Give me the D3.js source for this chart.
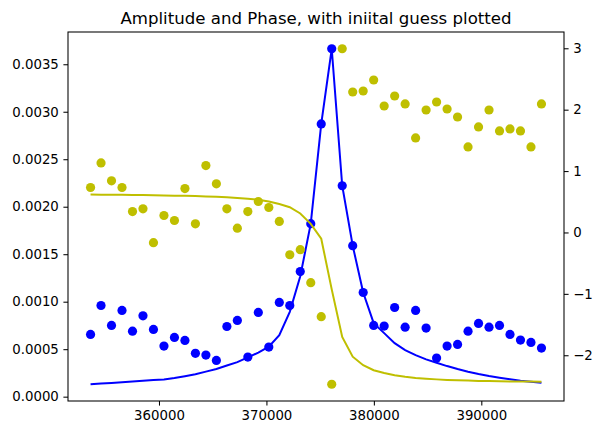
<!doctype html>
<html lang="en">
<head>
  <meta charset="utf-8">
  <title>Amplitude and Phase</title>
  <script src="https://cdn.jsdelivr.net/npm/d3@7"></script>
  <style>
    body { margin: 0; background: #fff; }
    text { font-family: "DejaVu Sans", sans-serif; }
  </style>
</head>
<body>
  <svg id="chart" width="604" height="435"></svg>
  <script>
    // frequencies (Hz)
    var freq = [353630, 354606, 355582, 356558, 357534, 358510, 359486, 360462, 361438, 362414,
      363390, 364366, 365342, 366318, 367294, 368270, 369246, 370222, 371198, 372174,
      373150, 374126, 375102, 376078, 377054, 378030, 379006, 379982, 380958, 381934,
      382910, 383886, 384862, 385838, 386814, 387790, 388766, 389742, 390718, 391694,
      392670, 393646, 394622, 395598];

    // measured amplitude (blue dots)
    var ampData = [0.000655, 0.000960, 0.000750, 0.000908, 0.000690, 0.000851, 0.000708, 0.000533, 0.000624, 0.000592,
      0.000456, 0.000438, 0.000382, 0.000739, 0.000803, 0.000417, 0.000887, 0.000522, 0.000992, 0.000960,
      0.001317, 0.001821, 0.002872, 0.003663, 0.002221, 0.001590, 0.001097, 0.000750, 0.000743, 0.000939,
      0.000732, 0.000908, 0.000722, 0.000407, 0.000533, 0.000550, 0.000690, 0.000771, 0.000732, 0.000750,
      0.000655, 0.000596, 0.000571, 0.000512];

    // initial guess amplitude (blue line)
    var ampGuess = [0.000131, 0.000138, 0.000144, 0.000151, 0.000159, 0.000167, 0.000175, 0.000182, 0.000196, 0.000215,
      0.000236, 0.000264, 0.000291, 0.000328, 0.000364, 0.000414, 0.000464, 0.000527, 0.000648, 0.000893,
      0.001268, 0.001821, 0.002872, 0.003663, 0.002221, 0.001590, 0.001097, 0.000774, 0.000669, 0.000564,
      0.000491, 0.000438, 0.000393, 0.000357, 0.000322, 0.000291, 0.000263, 0.000238, 0.000217, 0.000200,
      0.000183, 0.000168, 0.000158, 0.000147];

    // measured phase (yellow dots)
    var phaseData = [0.732, 1.133, 0.841, 0.732, 0.341, 0.385, -0.167, 0.276, 0.195, 0.715,
      0.141, 1.089, 0.792, 0.385, 0.070, 0.341, 0.504, 0.407, 0.179, -0.363,
      -0.281, -0.818, -1.371, -2.472, 2.992, 2.288, 2.304, 2.483, 2.060, 2.223,
      2.093, 1.540, 1.995, 2.125, 2.011, 1.881, 1.393, 1.719, 1.995, 1.654,
      1.686, 1.654, 1.393, 2.093];

    // initial guess phase (yellow line)
    var phaseGuess = [0.618, 0.616, 0.615, 0.613, 0.611, 0.610, 0.607, 0.604, 0.600, 0.597,
      0.592, 0.587, 0.580, 0.572, 0.563, 0.550, 0.532, 0.504, 0.463, 0.411,
      0.309, 0.141, -0.102, -0.927, -1.702, -2.024, -2.163, -2.244, -2.288, -2.325,
      -2.350, -2.369, -2.382, -2.393, -2.402, -2.408, -2.413, -2.418, -2.421, -2.424,
      -2.426, -2.428, -2.429, -2.431];

    var xTicks = [360000, 370000, 380000, 390000];
    var ampTicks = [0, 0.0005, 0.0010, 0.0015, 0.0020, 0.0025, 0.0030, 0.0035];
    var phaseTicks = [-2, -1, 0, 1, 2, 3];

    var titleText = "Amplitude and Phase, with iniital guess plotted";

    var padL = 68, padR = 564, padT = 32, padB = 401;
    var svg = d3.select("#chart");

    // autoscale like matplotlib, 5% margin
    function padded(vals) {
      var e = d3.extent(vals), m = (e[1] - e[0]) * 0.05;
      return [e[0] - m, e[1] + m];
    }

    var x = d3.scaleLinear().domain(padded(freq)).range([padL, padR]);
    var y1 = d3.scaleLinear().domain(padded(ampData.concat(ampGuess))).range([padB, padT]);
    var y2 = d3.scaleLinear().domain(padded(phaseData.concat(phaseGuess))).range([padB, padT]);

    var tick = 4.6, pad = 4.6;

    var ampAxis = d3.axisLeft(y1).tickValues(ampTicks).tickFormat(d3.format(".4f"))
      .tickSizeInner(tick).tickSizeOuter(0).tickPadding(pad);
    var phaseAxis = d3.axisRight(y2).tickValues(phaseTicks).tickFormat(d => d < 0 ? "\u2212" + Math.abs(d) : d)
      .tickSizeInner(tick).tickSizeOuter(0).tickPadding(pad);
    var freqAxis = d3.axisBottom(x).tickValues(xTicks).tickFormat(d3.format("d"))
      .tickSizeInner(tick).tickSizeOuter(0).tickPadding(pad);

    function styleAxis(g) {
      g.select(".domain").remove();
      g.selectAll("line").attr("stroke", "#000").attr("stroke-width", 1.05);
      g.selectAll("text").attr("fill", "#000").style("font-size", "13.3px")
        .style("font-family", "'DejaVu Sans', sans-serif");
    }

    svg.append("g").attr("transform", "translate(" + padL + ",0)").call(ampAxis).call(styleAxis);
    svg.append("g").attr("transform", "translate(" + padR + ",0)").call(phaseAxis).call(styleAxis);
    svg.append("g").attr("transform", "translate(0," + padB + ")").call(freqAxis).call(styleAxis);

    var lineAmp = d3.line().x((d, i) => x(freq[i])).y(d => y1(d));
    var linePhase = d3.line().x((d, i) => x(freq[i])).y(d => y2(d));

    var blue = "#0000ff", olive = "#bfbf00";

    // first axes: amplitude
    svg.append("g").selectAll("circle").data(ampData).join("circle")
      .attr("cx", (d, i) => x(freq[i])).attr("cy", d => y1(d)).attr("r", 4.6)
      .attr("fill", blue);
    svg.append("path").datum(ampGuess).attr("d", lineAmp)
      .attr("fill", "none").attr("stroke", blue).attr("stroke-width", 2);

    // twin axes: phase
    svg.append("g").selectAll("circle").data(phaseData).join("circle")
      .attr("cx", (d, i) => x(freq[i])).attr("cy", d => y2(d)).attr("r", 4.6)
      .attr("fill", olive);
    svg.append("path").datum(phaseGuess).attr("d", linePhase)
      .attr("fill", "none").attr("stroke", olive).attr("stroke-width", 2);

    // frame
    svg.append("rect").attr("x", padL).attr("y", padT)
      .attr("width", padR - padL).attr("height", padB - padT)
      .attr("fill", "none").attr("stroke", "#000").attr("stroke-width", 1.05);

    svg.append("text").attr("x", (padL + padR) / 2).attr("y", 24)
      .attr("text-anchor", "middle").style("font-size", "16.6px").text(titleText);
  </script>
</body>
</html>
